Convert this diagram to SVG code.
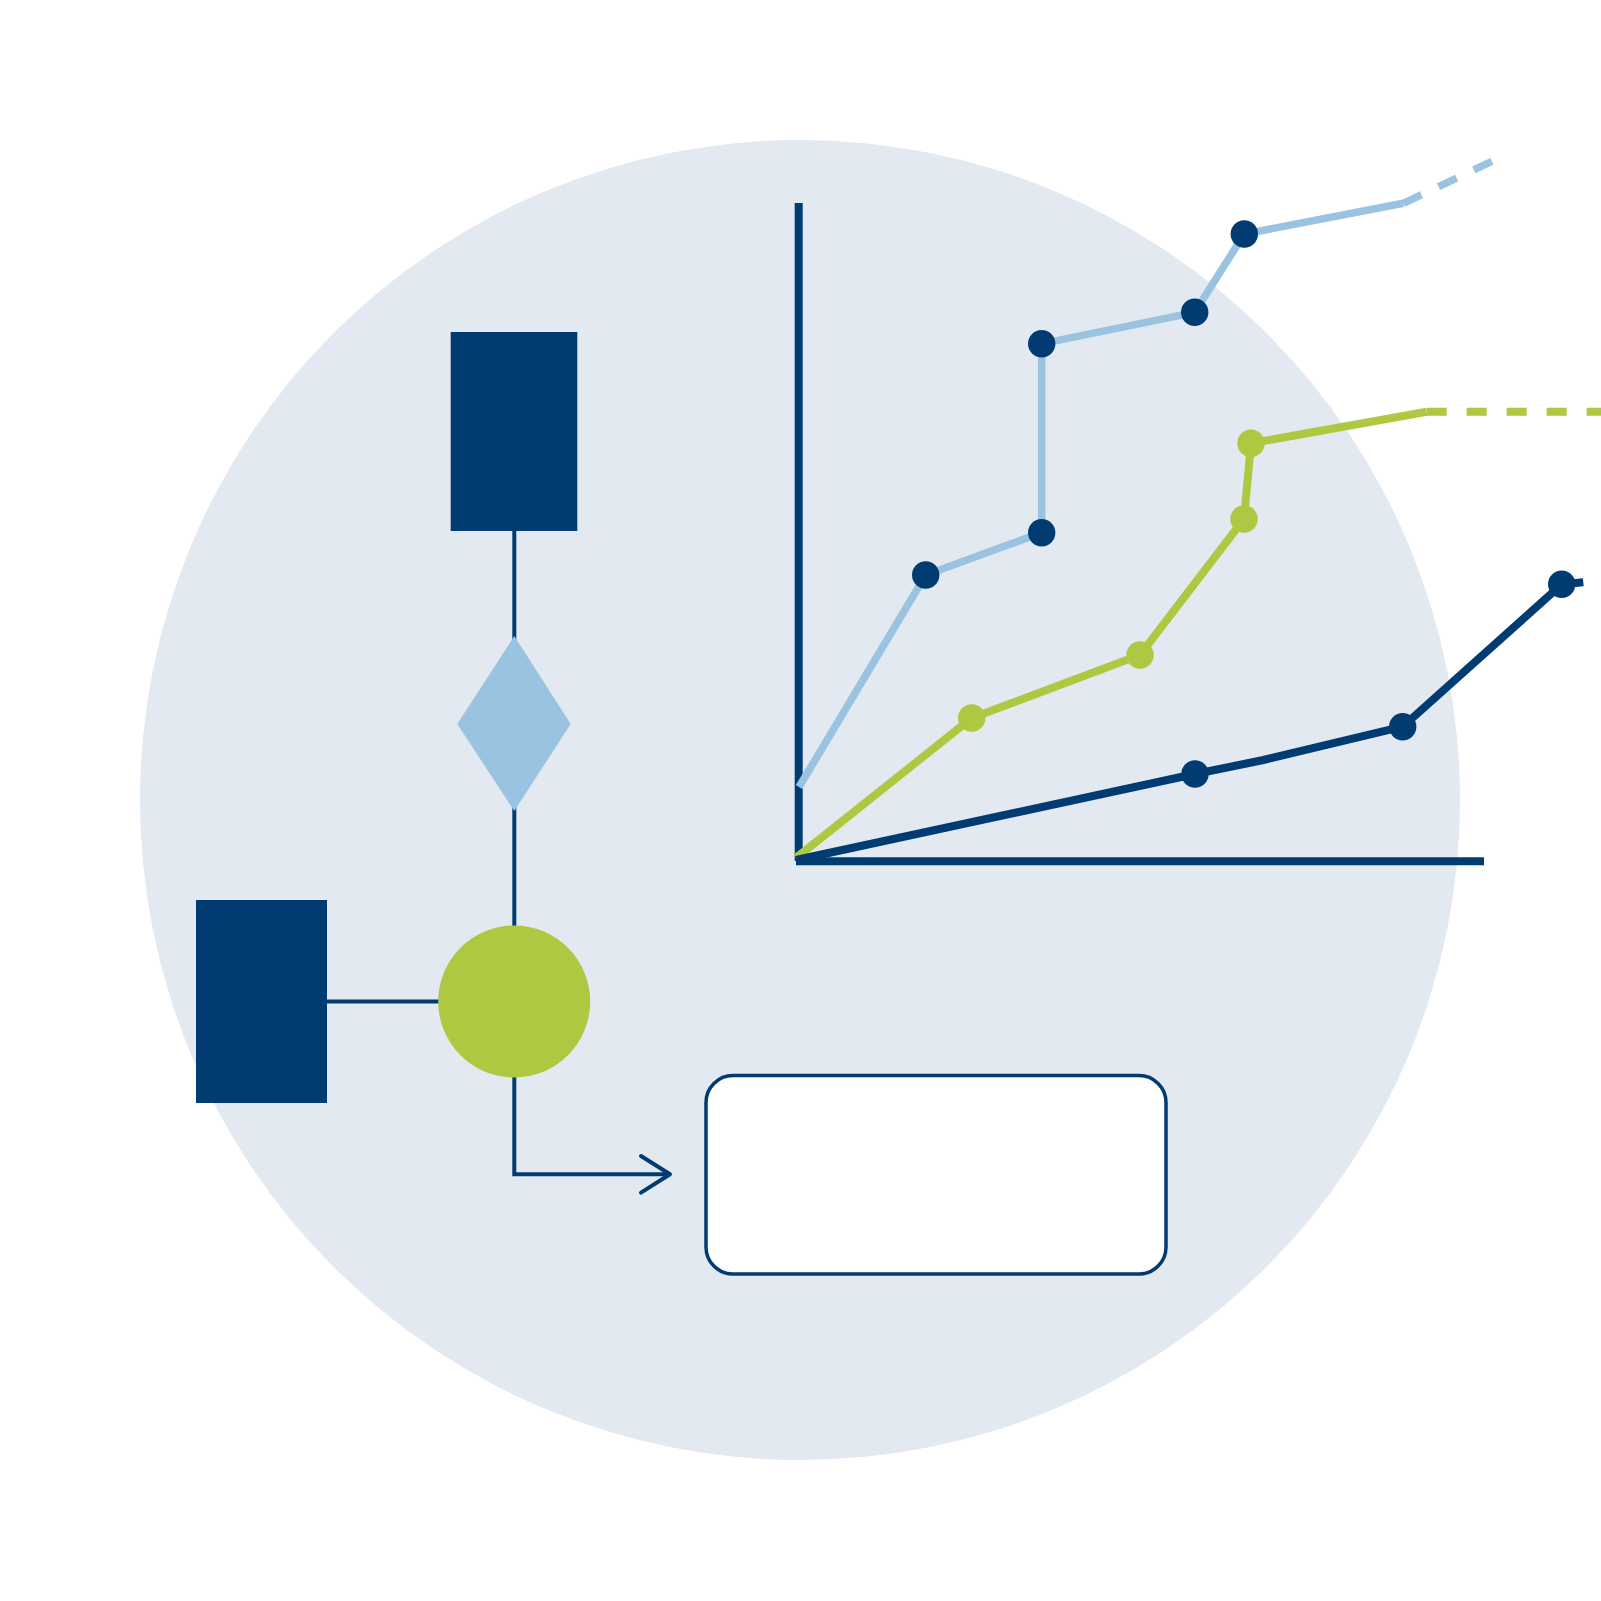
<svg xmlns="http://www.w3.org/2000/svg" width="1601" height="1601" viewBox="0 0 1601 1601">
  <defs>
    <style>
      .navy { fill: #003c71; }
      .conn { fill: none; stroke: #003c71; stroke-width: 4; }
      .axis { fill: none; stroke: #003c71; stroke-width: 8; }
      .lb { fill: none; stroke: #99c3e0; stroke-width: 7.5; }
      .gr { fill: none; stroke: #afc842; stroke-width: 8; }
      .nv { fill: none; stroke: #003c71; stroke-width: 8; }
      .dotn { fill: #003c71; }
      .dotg { fill: #afc842; }
    </style>
  </defs>
  <rect x="0" y="0" width="1601" height="1601" fill="#ffffff"/>
  <circle id="background" cx="800" cy="800" r="660" fill="#e2e9f0"/>

  <g id="connectors">
    <line class="conn" x1="514.3" y1="531" x2="514.3" y2="926"/>
    <line class="conn" x1="327" y1="1001.5" x2="440" y2="1001.5"/>
    <polyline class="conn" points="514.3,1076 514.3,1174.3 669,1174.3"/>
    <polyline class="conn" points="641,1156 670,1174.3 641,1192.6" stroke-linecap="round" stroke-linejoin="round"/>
  </g>

  <g id="node-rect-top">
    <rect class="navy" x="450.7" y="332" width="126.6" height="199"/>
  </g>
  <g id="node-diamond">
    <polygon points="514.3,636 570.7,724 514.3,811 457.3,724" fill="#99c3e0"/>
  </g>
  <g id="node-circle">
    <circle cx="514.2" cy="1001.5" r="76" fill="#afc842"/>
  </g>
  <g id="node-rect-left">
    <rect class="navy" x="196" y="900" width="131" height="203"/>
  </g>
  <g id="node-box">
    <rect x="706" y="1075.5" width="460" height="198.5" rx="27" ry="27" fill="#ffffff" stroke="#003c71" stroke-width="3.5"/>
  </g>

  <g id="chart">
    <line class="axis" x1="798.7" y1="203" x2="798.7" y2="861"/>
    <line class="axis" x1="796" y1="861.3" x2="1484" y2="861.3"/>

    <polyline class="lb" points="799,787 925.7,575 1041.7,532.7 1041.7,343.7 1194.7,312.3 1244.3,234 1403.3,203.3"/>
    <line class="lb" x1="1403.3" y1="203.3" x2="1493.3" y2="160.7" stroke-dasharray="20 19"/>

    <polyline class="gr" points="796,858 971.7,718 1140,655 1244,519 1251,443.3 1426.7,411.7"/>
    <line class="gr" x1="1426.7" y1="411.7" x2="1601" y2="411.7" stroke-dasharray="20 20"/>

    <polyline class="nv" points="796,860 1195,774 1263.3,760 1402.7,726.7 1561.7,584.3 1583.3,582.3"/>

    <circle class="dotn" cx="925.7" cy="575" r="13.7"/>
    <circle class="dotn" cx="1041.7" cy="532.7" r="13.7"/>
    <circle class="dotn" cx="1041.7" cy="343.7" r="13.7"/>
    <circle class="dotn" cx="1194.7" cy="312.3" r="13.7"/>
    <circle class="dotn" cx="1244.3" cy="234" r="13.7"/>

    <circle class="dotg" cx="971.7" cy="718" r="13.7"/>
    <circle class="dotg" cx="1140" cy="655" r="13.7"/>
    <circle class="dotg" cx="1244" cy="519" r="13.7"/>
    <circle class="dotg" cx="1251" cy="443.3" r="13.7"/>

    <circle class="dotn" cx="1195" cy="774" r="13.7"/>
    <circle class="dotn" cx="1402.7" cy="726.7" r="13.7"/>
    <circle class="dotn" cx="1561.7" cy="584.3" r="13.7"/>
  </g>
</svg>
